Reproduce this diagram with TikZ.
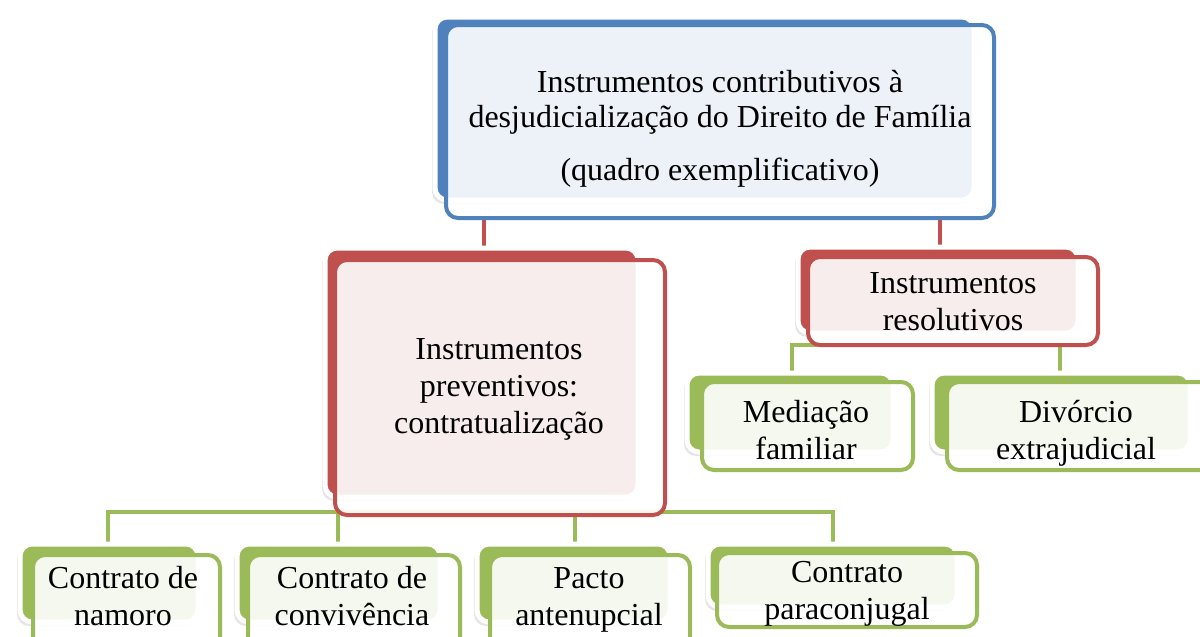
\documentclass[tikz,border=0pt]{standalone}
\usepackage{fontspec}
\setmainfont{Liberation Serif}
\usetikzlibrary{fit,shadows,backgrounds}
\definecolor{bluebox}{RGB}{79,129,189}
\definecolor{redbox}{RGB}{192,80,77}
\definecolor{greenbox}{RGB}{155,187,89}
\begin{document}
\begin{tikzpicture}[x=0.5pt,y=-0.5pt,
  backbox/.style={fill=#1,draw=white,line width=2.5pt,rounded corners=6pt,
    drop shadow={shadow xshift=-1.5pt,shadow yshift=-2pt,opacity=0.2}},
  frontbox/.style={draw=#1,line width=2pt,fill=white,fill opacity=0.9,rounded corners=6pt,inner sep=0pt},
  boxtext/.style={font=\fontsize{16}{18.5}\selectfont,align=center,anchor=base,inner sep=0pt},
  link/.style={draw=#1,line width=2pt}]
\useasboundingbox (0,0) rectangle (1200,637);
\begin{scope}[on background layer]
\fill[white] (0,0) rectangle (1200,637);
\end{scope}

\draw[backbox=bluebox] (435,17) rectangle (974,200);
\node[frontbox=bluebox,fit={(446,25)(994,218)}] (top) {};
\node[boxtext,font=\fontsize{16}{17.5}\selectfont] (toptext) at (720,180) {Instrumentos contributivos à\\desjudicialização do Direito de Família\\[9pt](quadro exemplificativo)};

\draw[backbox=redbox] (325,248) rectangle (638,497);
\node[frontbox=redbox,fit={(335,260)(665,515)}] (prev) {};
\node[boxtext] (prevtext) at (499,433) {Instrumentos\\preventivos:\\contratualização};

\draw[backbox=redbox] (798,247) rectangle (1078,333);
\node[frontbox=redbox,fit={(808,257)(1098,345)}] (reso) {};
\node[boxtext] (resotext) at (953,330) {Instrumentos\\resolutivos};

\draw[backbox=greenbox] (687,373) rectangle (893,452);
\node[frontbox=greenbox,fit={(702,382)(913,470)}] (media) {};
\node[boxtext] (mediatext) at (806,459) {Mediação\\familiar};

\draw[backbox=greenbox] (932,373) rectangle (1190,452);
\node[frontbox=greenbox,fit={(947,382)(1215,470)}] (divorcio) {};
\node[boxtext] (divorciotext) at (1076,459) {Divórcio\\extrajudicial};

\draw[backbox=greenbox] (20,544) rectangle (198,622);
\node[frontbox=greenbox,fit={(33,555)(220,655)}] (namoro) {};
\node[boxtext] (namorotext) at (123,625) {Contrato de\\namoro};

\draw[backbox=greenbox] (237,544) rectangle (440,622);
\node[frontbox=greenbox,fit={(248,555)(460,655)}] (conviv) {};
\node[boxtext] (convivtext) at (352,625) {Contrato de\\convivência};

\draw[backbox=greenbox] (477,544) rectangle (670,622);
\node[frontbox=greenbox,fit={(490,555)(690,655)}] (pacto) {};
\node[boxtext] (pactotext) at (589,625) {Pacto\\antenupcial};

\draw[backbox=greenbox] (708,544) rectangle (957,607);
\node[frontbox=greenbox,fit={(717,553)(977,627)}] (paracon) {};
\node[boxtext] (paracontext) at (847,619) {Contrato\\paraconjugal};

\coordinate (j1) at (484,0);
\coordinate (j2) at (940,0);
\coordinate (r1) at (792,345);
\coordinate (r2) at (1060,345);
\coordinate (s1) at (108,512);
\coordinate (s2) at (338,512);
\coordinate (s3) at (575,512);
\coordinate (s4) at (833,512);
\begin{scope}[on background layer]
\draw[link=redbox] (top.south -| j1) -- (prev.north -| j1);
\draw[link=redbox] (top.south -| j2) -- (reso.north -| j2);
\draw[link=greenbox] (media.north -| r1) -- (r1) -- (r2) -- (divorcio.north -| r2);
\draw[link=greenbox] (namoro.north -| s1) -- (s1) -- (s4) -- (paracon.north -| s4);
\draw[link=greenbox] (s2) -- (conviv.north -| s2);
\draw[link=greenbox] (s3) -- (pacto.north -| s3);
\end{scope}
\end{tikzpicture}
\end{document}
